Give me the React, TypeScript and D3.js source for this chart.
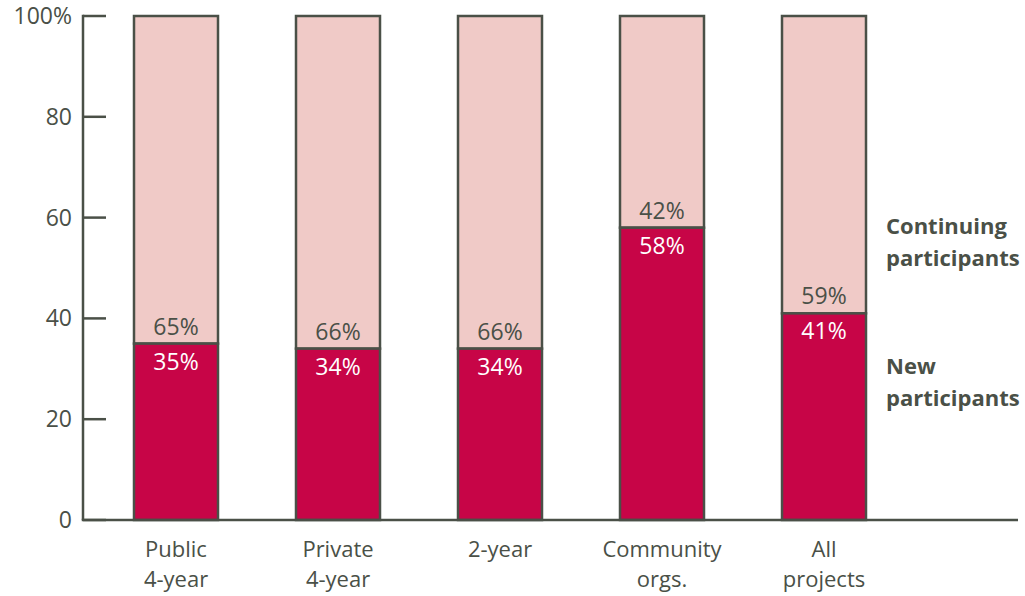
import React from "react";
import * as d3 from "d3";

const categories = ["Public|4-year", "Private|4-year", "2-year", "Community|orgs.", "All|projects"];
const newParticipants = [35, 34, 34, 58, 41];
const continuingParticipants = [65, 66, 66, 42, 59];
const yTicks = [0, 20, 40, 60, 80, 100];

const W = 1025;
const H = 596;
const DARK = "#4a5047";
const RED = "#c70547";
const PINK = "#f0cac7";
const FONT = "'Open Sans', 'Liberation Sans', sans-serif";

export default function App() {
  const y = d3.scaleLinear().domain([0, 100]).range([520, 16]);
  const x = d3.scalePoint<string>().domain(categories).range([176, 824]);
  const barW = 84;
  const axisX = 83;

  return (
    <svg width={W} height={H} style={{ position: "absolute", left: 0, top: 0 }} fontFamily={FONT}>
      <rect x={0} y={0} width={W} height={H} fill="#fff" />
      {categories.map((c, i) => {
        const cx = x(c)!;
        const n = newParticipants[i];
        const k = continuingParticipants[i];
        const lines = c.split("|");
        return (
          <g key={c}>
            <rect x={cx - barW / 2} y={y(100)} width={barW} height={y(n) - y(100)} fill={PINK} stroke={DARK} strokeWidth={2.5} />
            <rect x={cx - barW / 2} y={y(n)} width={barW} height={y(0) - y(n)} fill={RED} stroke={DARK} strokeWidth={2.5} />
            <text x={cx} y={y(n) - 9} textAnchor="middle" fontSize={23} fill={DARK}>{k}%</text>
            <text x={cx} y={y(n) + 26} textAnchor="middle" fontSize={23} fill="#fff">{n}%</text>
            {lines.map((l, j) => (
              <text key={j} x={cx} y={557 + j * 30} textAnchor="middle" fontSize={22} fill={DARK}>{l}</text>
            ))}
          </g>
        );
      })}
      <line x1={axisX} x2={axisX} y1={y(100) - 1.25} y2={y(0)} stroke={DARK} strokeWidth={2.5} />
      <line x1={axisX - 1.25} x2={1018} y1={y(0)} y2={y(0)} stroke={DARK} strokeWidth={2.5} />
      {yTicks.map((t) => (
        <g key={t}>
          <line x1={axisX} x2={106} y1={y(t)} y2={y(t)} stroke={DARK} strokeWidth={2.5} />
          <text x={72} y={y(t) + 8} textAnchor="end" fontSize={23} fill={DARK}>{t === 100 ? "100%" : t}</text>
        </g>
      ))}
      <g fontWeight="bold" fontSize={22} fill={DARK}>
        <text x={886} y={234}>Continuing</text>
        <text x={886} y={266}>participants</text>
        <text x={886} y={374}>New</text>
        <text x={886} y={406}>participants</text>
      </g>
    </svg>
  );
}
